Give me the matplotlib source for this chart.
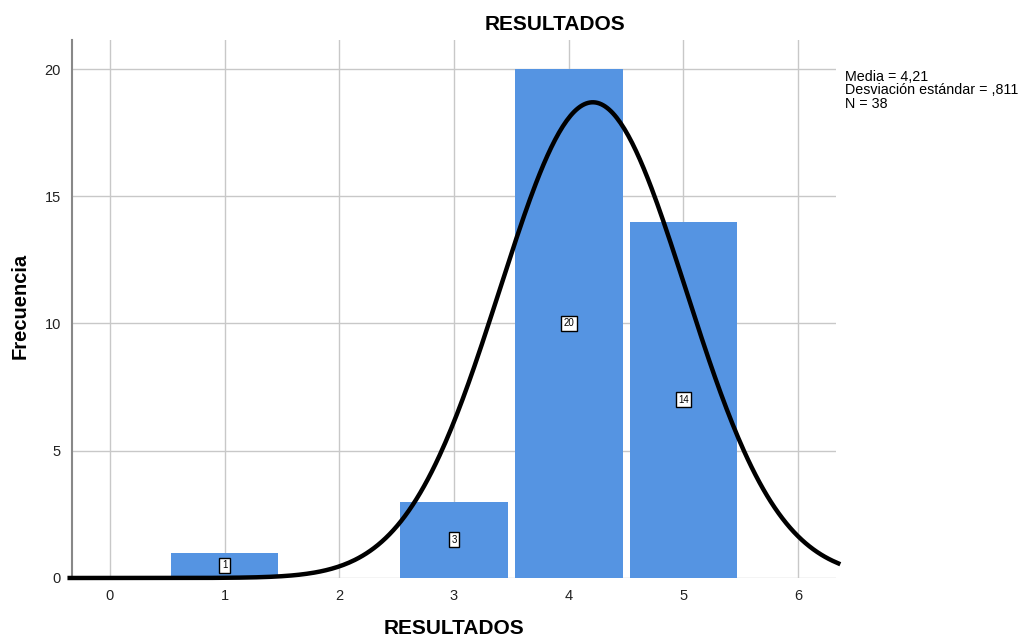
import numpy as np
import matplotlib
matplotlib.use('Agg')
import matplotlib.pyplot as plt

plt.rcParams['font.family'] = ['Liberation Sans', 'DejaVu Sans']

# histogram data
values = [1, 3, 4, 5]
counts = [1, 3, 20, 14]
media = 4.21
desv = 0.811
n = 38

fig = plt.figure(figsize=(10.21, 6.4), dpi=100)
ax = fig.add_axes([0.0705, 0.0969, 0.7483, 0.8406])

ax.bar(values, counts, width=0.94, color='#5594e2', zorder=2)

# normal curve scaled to counts (bin width 1)
xs = np.linspace(-0.35, 6.35, 400)
ys = n / (desv * np.sqrt(2 * np.pi)) * np.exp(-0.5 * ((xs - media) / desv) ** 2)
ax.plot(xs, ys, color='black', lw=3.2, zorder=4, clip_on=False)

for v, c in zip(values, counts):
    ax.text(v, c / 2, str(c), ha='center', va='center', fontsize=7, zorder=5,
            bbox=dict(boxstyle='square,pad=0.25', fc='white', ec='black', lw=1))

ax.set_xlim(-0.33, 6.33)
ax.set_ylim(0, 21.14)
ax.set_xticks(range(0, 7))
ax.set_yticks([0, 5, 10, 15, 20])
ax.grid(True, color='#c8c8c8', lw=1, zorder=0)
ax.set_axisbelow(True)
ax.tick_params(length=0, labelsize=10.5, colors='#222222', pad=8)

for s in ['top', 'right', 'bottom']:
    ax.spines[s].set_visible(False)
ax.spines['left'].set_color('#888888')
ax.spines['left'].set_linewidth(1.5)

fig.text(555 / 1021, 1 - 25 / 640, 'RESULTADOS', fontsize=15, fontweight='bold',
         ha='center', va='center')
fig.text(454 / 1021, 1 - 628 / 640, 'RESULTADOS', fontsize=15, fontweight='bold',
         ha='center', va='center')
fig.text(20 / 1021, 1 - 306 / 640, 'Frecuencia', fontsize=14.5, fontweight='bold',
         ha='center', va='center', rotation=90)

fig.text(845 / 1021, 1 - 70 / 640,
         'Media = 4,21\nDesviación estándar = ,811\nN = 38',
         fontsize=10.3, va='top', ha='left', linespacing=0.95)

fig.savefig('out.png', dpi=100)
